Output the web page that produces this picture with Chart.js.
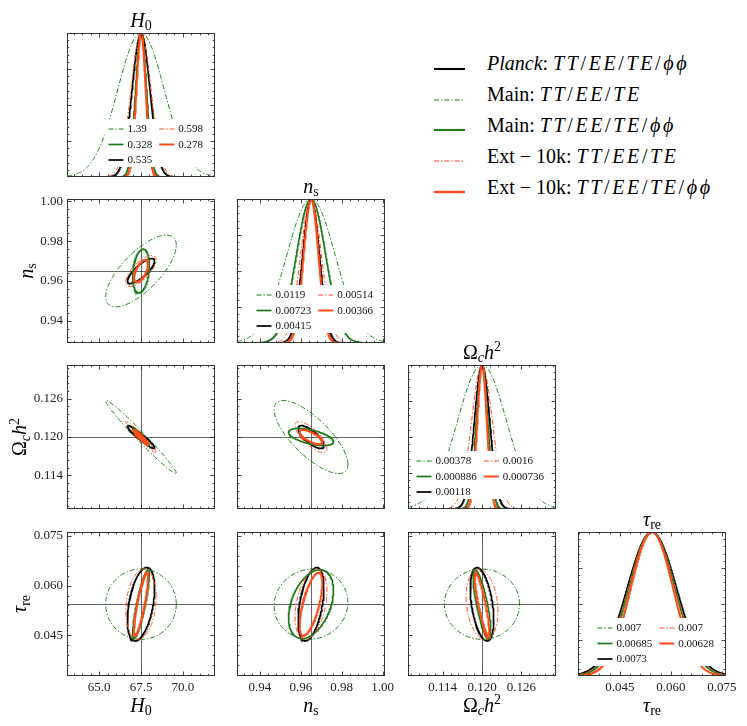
<!DOCTYPE html>
<html>
<head>
<meta charset="utf-8">
<title>Fisher forecast triangle plot</title>
<script src="https://cdn.jsdelivr.net/npm/chart.js@4.4.1/dist/chart.umd.min.js"></script>
<style>
  html, body { margin: 0; padding: 0; background: #fff; }
  body { position: relative; width: 747px; height: 726px; overflow: hidden; font-family: "Liberation Serif", "DejaVu Serif", serif; }
  canvas { position: absolute; }
  .lg-row { position: absolute; white-space: nowrap; font-size: 20px; line-height: 20px; color: #000; }
  .lg-line { position: absolute; }
  .m { font-style: italic; letter-spacing: 2.6px; }
  .m .up { font-style: normal; }
</style>
</head>
<body>
<script>
// ---------- data ----------
// parameters: H0, n_s, Omega_c h^2, tau_re
var fiducial = [67.5, 0.965, 0.120, 0.0544];
var axisMin = [63.08, 0.9288, 0.1087, 0.0327];
var axisMax = [71.92, 1.0012, 0.1313, 0.0762];
var majorTicks = [
  [65.0, 67.5, 70.0],
  [0.94, 0.96, 0.98, 1.00],
  [0.114, 0.120, 0.126],
  [0.045, 0.060, 0.075]
];
var minorStep = [0.5, 0.004, 0.0012, 0.003];
var tickDigits = [1, 2, 3, 3];
var pdfTicks = [0, 0.25, 0.5, 0.75, 1.0];
var pdfMinorStep = 0.05;

// series (legend order)
var seriesPrefix = ['Planck', 'Main', 'Main', 'Ext − 10k', 'Ext − 10k'];
var seriesProbes = ['TT/EE/TE/ϕϕ', 'TT/EE/TE', 'TT/EE/TE/ϕϕ', 'TT/EE/TE', 'TT/EE/TE/ϕϕ'];

// 1-sigma errors on H0, n_s, Omega_c h^2, tau_re
var sigmaPlanck = [0.535, 0.00415, 0.00118, 0.0073];
var sigmaMainT  = [1.39, 0.0119, 0.00378, 0.007];
var sigmaMainL  = [0.328, 0.00723, 0.000886, 0.00685];
var sigmaExtT   = [0.598, 0.00514, 0.0016, 0.007];
var sigmaExtL   = [0.278, 0.00366, 0.000736, 0.00628];

// correlation coefficients, pairs: H0-ns, H0-och2, H0-tau, ns-och2, ns-tau, och2-tau
var pairs = [[0, 1], [0, 2], [0, 3], [1, 2], [1, 3], [2, 3]];
var rhoPlanck = [0.80, -0.95, 0.43, -0.75, 0.45, -0.43];
var rhoMainT  = [0.72, -0.985, 0.00, -0.75, 0.05, 0.00];
var rhoMainL  = [0.25, -0.97, 0.85, -0.55, 0.40, -0.78];
var rhoExtT   = [0.70, -0.97, 0.20, -0.75, 0.36, -0.20];
var rhoExtL   = [0.60, -0.97, 0.85, -0.70, 0.67, -0.87];

var seriesSigma = [sigmaPlanck, sigmaMainT, sigmaMainL, sigmaExtT, sigmaExtL];
var seriesRho = [rhoPlanck, rhoMainT, rhoMainL, rhoExtT, rhoExtL];

// ---------- style / layout ----------
var seriesColor = ['#000000', '#1c7a1c', '#1c7a1c', '#ff4b17', '#ff4b17'];
var seriesWidth = [1.7, 1.0, 1.7, 1.0, 2.0];
var seriesDash = [[], [5, 2, 1.3, 2], [], [5, 2, 1.3, 2], []];
var legendOrder = [[1, 2, 0], [3, 4]];

var PW = 148, PH = 144;
var colLeft = [67, 237, 408, 578];
var rowTop = [33, 199, 365, 532];
var ML = 75, MT = 34, MR = 30, MB = 48;
var CONTOUR_K = Math.sqrt(2.30); // 68% region in 2D
var SERIF = '"Liberation Serif", "DejaVu Serif", serif';

var axisLabel = [
  [{t: 'H', it: true}, {t: '0', sub: true}],
  [{t: 'n', it: true}, {t: 's', sub: true}],
  [{t: 'Ω'}, {t: 'c', it: true, sub: true}, {t: 'h', it: true}, {t: '2', sup: true}],
  [{t: 'τ', it: true}, {t: 're', sub: true}]
];

Chart.defaults.font.family = SERIF;

function gaussianCurve(p, sig) {
  var pts = [];
  var n = 300;
  for (var i = 0; i <= n; i++) {
    var x = axisMin[p] + (axisMax[p] - axisMin[p]) * i / n;
    var d = (x - fiducial[p]) / sig;
    pts.push({x: x, y: Math.exp(-0.5 * d * d)});
  }
  return pts;
}

function ellipseCurve(px, py, sx, sy, rho) {
  var pts = [];
  var n = 160;
  var q = Math.sqrt(1 - rho * rho);
  for (var i = 0; i <= n; i++) {
    var t = 2 * Math.PI * i / n;
    pts.push({
      x: fiducial[px] + CONTOUR_K * sx * Math.cos(t),
      y: fiducial[py] + CONTOUR_K * sy * (rho * Math.cos(t) + q * Math.sin(t))
    });
  }
  return pts;
}

function pairIndex(a, b) {
  for (var i = 0; i < pairs.length; i++) {
    if (pairs[i][0] === a && pairs[i][1] === b) return i;
  }
  return -1;
}

function minorValues(major, step, min, max) {
  var out = [];
  for (var k = Math.ceil(min / step - 1e-9); k * step <= max + 1e-12; k++) {
    var v = k * step;
    var isMajor = major.some(function (m) { return Math.abs(m - v) < step * 1e-3; });
    if (!isMajor) out.push(v);
  }
  return out;
}

function partFont(p, size) {
  var sz = (p.sub || p.sup) ? size * 0.7 : size;
  return (p.it ? 'italic ' : '') + sz.toFixed(1) + 'px ' + SERIF;
}

function richWidth(ctx, parts, size) {
  var w = 0;
  parts.forEach(function (p) { ctx.font = partFont(p, size); w += ctx.measureText(p.t).width; });
  return w;
}

function drawRich(ctx, parts, cx, baseY, size) {
  var x = cx - richWidth(ctx, parts, size) / 2;
  ctx.textAlign = 'left';
  ctx.textBaseline = 'alphabetic';
  ctx.fillStyle = '#000';
  parts.forEach(function (p) {
    ctx.font = partFont(p, size);
    var dy = p.sub ? size * 0.17 : (p.sup ? -size * 0.38 : 0);
    ctx.fillText(p.t, x, baseY + dy);
    x += ctx.measureText(p.t).width;
  });
}

function drawInnerLegend(ctx, a, p) {
  var fs = 11, hl = 15, pad = 4, colGap = 7;
  ctx.font = fs + 'px ' + SERIF;
  var txt = function (s) { return String(seriesSigma[s][p]); };
  var colW = function (col) {
    return Math.max.apply(null, col.map(function (s) { return ctx.measureText(txt(s)).width; }));
  };
  var w1 = colW(legendOrder[0]), w2 = colW(legendOrder[1]);
  var right = a.right - 12;
  var tx2 = right - w2, hx2 = tx2 - pad - hl;
  var tx1 = hx2 - colGap - w1, hx1 = tx1 - pad - hl;
  ctx.fillStyle = '#fff';
  ctx.fillRect(hx1 - 4, a.bottom - 58, right + 4 - (hx1 - 4), 48);
  var rowY = [a.bottom - 48, a.bottom - 32.5, a.bottom - 17];
  [[hx1, tx1], [hx2, tx2]].forEach(function (pos, ci) {
    legendOrder[ci].forEach(function (s, ri) {
      var y = rowY[ri];
      ctx.strokeStyle = seriesColor[s];
      ctx.lineWidth = seriesWidth[s];
      ctx.setLineDash(seriesDash[s]);
      ctx.beginPath();
      ctx.moveTo(pos[0], y);
      ctx.lineTo(pos[0] + hl, y);
      ctx.stroke();
      ctx.setLineDash([]);
      ctx.fillStyle = '#111';
      ctx.textAlign = 'left';
      ctx.textBaseline = 'middle';
      ctx.font = fs + 'px ' + SERIF;
      ctx.fillText(txt(s), pos[1], y + 0.5);
    });
  });
}

function drawTicks(ctx, a, scale, horizontal, major, minor) {
  [[major, 4.5], [minor, 2.3]].forEach(function (set) {
    var len = set[1];
    ctx.beginPath();
    set[0].forEach(function (v) {
      var pix = Math.round(scale.getPixelForValue(v)) + 0.5;
      if (horizontal) {
        if (pix < a.left + 1 || pix > a.right - 1) return;
        ctx.moveTo(pix, a.bottom); ctx.lineTo(pix, a.bottom - len);
        ctx.moveTo(pix, a.top); ctx.lineTo(pix, a.top + len);
      } else {
        if (pix < a.top + 1 || pix > a.bottom - 1) return;
        ctx.moveTo(a.left, pix); ctx.lineTo(a.left + len, pix);
        ctx.moveTo(a.right, pix); ctx.lineTo(a.right - len, pix);
      }
    });
    ctx.stroke();
  });
}

var panelDecor = {
  id: 'panelDecor',
  beforeDatasetsDraw: function (chart, args, opts) {
    if (opts.r === opts.c) return;
    var ctx = chart.ctx, a = chart.chartArea;
    var vx = Math.round(chart.scales.x.getPixelForValue(fiducial[opts.c])) + 0.5;
    var hy = Math.round(chart.scales.y.getPixelForValue(fiducial[opts.r])) + 0.5;
    ctx.save();
    ctx.strokeStyle = '#555';
    ctx.lineWidth = 0.9;
    ctx.beginPath();
    ctx.moveTo(vx, a.top); ctx.lineTo(vx, a.bottom);
    ctx.moveTo(a.left, hy); ctx.lineTo(a.right, hy);
    ctx.stroke();
    ctx.restore();
  },
  afterDraw: function (chart, args, opts) {
    var ctx = chart.ctx, a = chart.chartArea;
    var r = opts.r, c = opts.c;
    ctx.save();
    if (r === c) drawInnerLegend(ctx, a, c);

    ctx.strokeStyle = '#333';
    ctx.lineWidth = 0.9;
    drawTicks(ctx, a, chart.scales.x, true, majorTicks[c],
      minorValues(majorTicks[c], minorStep[c], axisMin[c], axisMax[c]));
    if (r === c) {
      drawTicks(ctx, a, chart.scales.y, false, pdfTicks, minorValues(pdfTicks, pdfMinorStep, 0, 1));
    } else {
      drawTicks(ctx, a, chart.scales.y, false, majorTicks[r],
        minorValues(majorTicks[r], minorStep[r], axisMin[r], axisMax[r]));
    }

    ctx.lineWidth = 1;
    ctx.strokeRect(a.left + 0.5, a.top + 0.5, a.right - a.left - 1, a.bottom - a.top - 1);

    var cx = (a.left + a.right) / 2;
    if (r === c) drawRich(ctx, axisLabel[c], cx, a.top - 6.5, 20);
    if (r === 3) drawRich(ctx, axisLabel[c], cx, a.bottom + 36, 20);
    if (c === 0 && r > 0) {
      ctx.font = '13px ' + SERIF;
      var maxW = Math.max.apply(null, majorTicks[r].map(function (v) {
        return ctx.measureText(v.toFixed(tickDigits[r])).width;
      }));
      var xb = a.left - 8 - maxW - 3.4;
      ctx.translate(xb, (a.top + a.bottom) / 2);
      ctx.rotate(-Math.PI / 2);
      drawRich(ctx, axisLabel[r], 0, 0, 20);
    }
    ctx.restore();
  }
};
Chart.register(panelDecor);

function fixBox(size, key) {
  return function (axis) {
    axis[key] = size;
    axis.paddingLeft = 0; axis.paddingRight = 0; axis.paddingTop = 0; axis.paddingBottom = 0;
  };
}

function buildPanel(r, c) {
  var W = PW + ML + MR, H = PH + MT + MB;
  var cv = document.createElement('canvas');
  cv.width = W; cv.height = H;
  cv.style.left = (colLeft[c] - ML) + 'px';
  cv.style.top = (rowTop[r] - MT) + 'px';
  cv.style.width = W + 'px';
  cv.style.height = H + 'px';
  document.body.appendChild(cv);

  var diag = (r === c);
  var datasets = seriesSigma.map(function (sig, s) {
    return {
      data: diag ? gaussianCurve(c, sig[c])
                 : ellipseCurve(c, r, sig[c], sig[r], seriesRho[s][pairIndex(c, r)]),
      showLine: true,
      pointRadius: 0,
      borderColor: seriesColor[s],
      borderWidth: seriesWidth[s],
      borderDash: seriesDash[s],
      fill: false,
      tension: 0,
      clip: 0,
      order: seriesSigma.length - 1 - s
    };
  });

  var tickFont = {family: SERIF, size: 13};
  new Chart(cv, {
    type: 'scatter',
    data: {datasets: datasets},
    options: {
      responsive: false,
      animation: false,
      events: [],
      layout: {padding: {left: 0, top: MT, right: MR, bottom: 0}, autoPadding: false},
      plugins: {legend: {display: false}, tooltip: {enabled: false}, panelDecor: {r: r, c: c}},
      scales: {
        x: {
          type: 'linear', min: axisMin[c], max: axisMax[c],
          grid: {display: false, drawTicks: false},
          border: {display: false},
          ticks: {
            display: r === 3, font: tickFont, color: '#222', padding: 4,
            maxRotation: 0, autoSkip: false,
            callback: function (v) { return v.toFixed(tickDigits[c]); }
          },
          afterBuildTicks: function (axis) {
            axis.ticks = majorTicks[c].map(function (v) { return {value: v}; });
          },
          afterFit: fixBox(MB, 'height')
        },
        y: {
          type: 'linear',
          min: diag ? 0 : axisMin[r], max: diag ? 1 : axisMax[r],
          grid: {display: false, drawTicks: false},
          border: {display: false},
          ticks: {
            display: c === 0 && r > 0, font: tickFont, color: '#222', padding: 4,
            autoSkip: false,
            callback: function (v) { return diag ? '' : v.toFixed(tickDigits[r]); }
          },
          afterBuildTicks: function (axis) {
            var vals = diag ? pdfTicks : majorTicks[r];
            axis.ticks = vals.map(function (v) { return {value: v}; });
          },
          afterFit: fixBox(ML, 'width')
        }
      }
    }
  });
}

for (var r = 0; r < 4; r++) {
  for (var c = 0; c <= r; c++) buildPanel(r, c);
}

// ---------- figure legend ----------
var legendY0 = 62.7, legendDY = 30.8;
seriesPrefix.forEach(function (pre, s) {
  var y = legendY0 + s * legendDY;
  var dash = seriesDash[s].length ? ' stroke-dasharray="' + seriesDash[s].join(' ') + '"' : '';
  var lw = seriesWidth[s] === 1.0 ? 1.2 : seriesWidth[s] + 0.4;
  var line = document.createElement('div');
  line.className = 'lg-line';
  line.style.left = '434px';
  line.style.top = (y - 4) + 'px';
  line.innerHTML = '<svg width="31" height="8"><line x1="0" y1="4" x2="31" y2="4" stroke="' +
    seriesColor[s] + '" stroke-width="' + lw + '"' + dash + '/></svg>';
  document.body.appendChild(line);

  var math = seriesProbes[s].split('').map(function (ch) {
    return ch === '/' ? '<span class="up">/</span>' : ch;
  }).join('');
  var label = document.createElement('div');
  label.className = 'lg-row';
  label.style.left = '487px';
  label.style.top = (y - 9.25) + 'px';
  label.innerHTML = (s === 0 ? '<i>' + pre + '</i>' : pre) + ': <span class="m">' + math + '</span>';
  document.body.appendChild(label);
});
</script>
</body>
</html>
